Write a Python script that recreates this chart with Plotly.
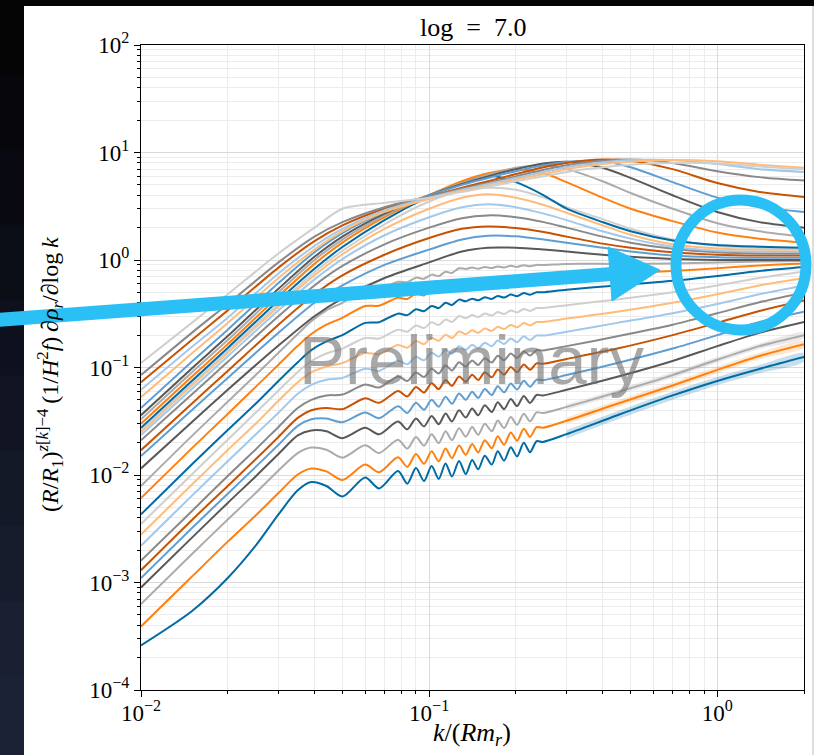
import plotly.graph_objects as go

# ---------------- data ----------------
K_LOW = [0.01, 0.015, 0.02, 0.025, 0.03, 0.035, 0.039, 0.044, 0.05, 0.06, 0.067, 0.078,
         0.084, 0.09, 0.096, 0.102, 0.108, 0.114, 0.12, 0.127, 0.134,
         0.141, 0.148, 0.156, 0.165, 0.173, 0.182, 0.192, 0.202, 0.213, 0.224, 0.236, 0.248,
         0.3, 0.45, 0.7, 1.0, 1.4, 2.0]
K_HIGH = [0.01, 0.015, 0.02, 0.03, 0.04, 0.05, 0.07, 0.1, 0.13, 0.16, 0.2, 0.25, 0.3,
          0.4, 0.5, 0.7, 1.0, 1.4, 2.0]

C00 = [2.6e-4, 5.4e-4, 1.1e-3, 2.2e-3, 4.3e-3, 7.2e-3, 8.6e-3, 7.9e-3, 6.3e-3, 9.5e-3, 7.5e-3, 1.09e-2, 8.3e-3, 1.16e-2, 8.8e-3, 1.21e-2, 9.2e-3, 1.28e-2, 9.7e-3, 1.35e-2, 1.02e-2,
       0.0138, 0.0113, 0.0151, 0.0125, 0.0166, 0.0136, 0.0181, 0.0149, 0.0199, 0.0163, 0.0206, 0.0203,
       0.024, 0.036, 0.055, 0.075, 0.097, 0.125]
C01 = [3.9e-4, 1.13e-3, 2.4e-3, 4.2e-3, 6.8e-3, 1.01e-2, 1.15e-2, 1.08e-2, 9.0e-3, 1.25e-2, 1.06e-2, 1.46e-2, 1.19e-2, 1.57e-2, 1.27e-2, 1.66e-2, 1.34e-2, 1.76e-2, 1.43e-2, 1.88e-2, 1.54e-2,
       0.0194, 0.0162, 0.0211, 0.0177, 0.0229, 0.0191, 0.0249, 0.0208, 0.0270, 0.0226, 0.0279, 0.0275,
       0.032, 0.046, 0.068, 0.095, 0.128, 0.165]
C02 = [6.3e-4, 1.83e-3, 3.85e-3, 6.8e-3, 1.1e-2, 1.6e-2, 1.8e-2, 1.72e-2, 1.45e-2, 1.89e-2, 1.6e-2, 2.13e-2, 1.76e-2, 2.26e-2, 1.87e-2, 2.4e-2, 1.98e-2, 2.55e-2, 2.11e-2, 2.72e-2, 2.27e-2,
       0.0279, 0.0236, 0.0300, 0.0255, 0.0322, 0.0273, 0.0346, 0.0293, 0.0372, 0.0316, 0.0382, 0.0377,
       0.043, 0.059, 0.085, 0.118, 0.158, 0.20]
C03 = [9.0e-4, 2.6e-3, 5.5e-3, 9.7e-3, 1.57e-2, 2.34e-2, 2.6e-2, 2.55e-2, 2.2e-2, 2.75e-2, 2.39e-2, 3.14e-2, 2.66e-2, 3.36e-2, 2.83e-2, 3.54e-2, 2.97e-2, 3.74e-2, 3.15e-2, 4.0e-2, 3.42e-2,
       0.0416, 0.0359, 0.0445, 0.0385, 0.0475, 0.0410, 0.0508, 0.0438, 0.0543, 0.0468, 0.0555, 0.0549,
       0.062, 0.082, 0.115, 0.158, 0.21, 0.265]
C04 = [1.1e-3, 3.2e-3, 6.7e-3, 1.19e-2, 1.91e-2, 2.86e-2, 3.3e-2, 3.35e-2, 3.1e-2, 3.82e-2, 3.37e-2, 4.36e-2, 3.78e-2, 4.69e-2, 4.05e-2, 5.01e-2, 4.32e-2, 5.34e-2, 4.6e-2, 5.72e-2, 5.0e-2,
       0.0595, 0.0521, 0.0631, 0.0555, 0.0670, 0.0587, 0.0711, 0.0623, 0.0754, 0.0661, 0.0770, 0.0762,
       0.085, 0.11, 0.15, 0.20, 0.265, 0.33]
C05 = [1.3e-3, 3.8e-3, 7.9e-3, 1.4e-2, 2.26e-2, 3.4e-2, 4.0e-2, 4.2e-2, 4.1e-2, 5.18e-2, 4.69e-2, 6.05e-2, 5.38e-2, 6.59e-2, 5.84e-2, 7.13e-2, 6.3e-2, 7.67e-2, 6.76e-2, 8.26e-2, 7.36e-2,
       0.0857, 0.0764, 0.0905, 0.0810, 0.0957, 0.0855, 0.1011, 0.0903, 0.1069, 0.0954, 0.1092, 0.1083,
       0.12, 0.15, 0.20, 0.26, 0.335, 0.42]
C06 = [1.6e-3, 4.6e-3, 9.8e-3, 1.73e-2, 2.8e-2, 4.2e-2, 5.0e-2, 5.5e-2, 5.6e-2, 6.96e-2, 6.51e-2, 8.24e-2, 7.49e-2, 8.99e-2, 8.14e-2, 9.74e-2, 8.79e-2, 0.105, 9.39e-2, 0.112, 0.102,
       0.1163, 0.1055, 0.1220, 0.1112, 0.1284, 0.1167, 0.1349, 0.1227, 0.1420, 0.1290, 0.1449, 0.1441,
       0.158, 0.195, 0.25, 0.32, 0.405, 0.50]
C07 = [2.2e-3, 6.4e-3, 1.34e-2, 2.38e-2, 3.8e-2, 5.7e-2, 6.9e-2, 7.7e-2, 8.0e-2, 9.75e-2, 9.3e-2, 0.1155, 0.107, 0.126, 0.1166, 0.137, 0.126, 0.146, 0.134, 0.158, 0.146,
       0.163, 0.151, 0.170, 0.158, 0.178, 0.165, 0.186, 0.172, 0.195, 0.180, 0.1986, 0.1981,
       0.215, 0.26, 0.32, 0.39, 0.48, 0.58]
C08 = [2.8e-3, 8.1e-3, 1.71e-2, 3.0e-2, 4.9e-2, 7.3e-2, 9.0e-2, 0.102, 0.11, 0.1365, 0.133, 0.162, 0.153, 0.176, 0.165, 0.189, 0.177, 0.202, 0.188, 0.216, 0.204,
       0.2215, 0.2104, 0.2302, 0.2192, 0.2395, 0.2276, 0.2491, 0.2367, 0.2591, 0.2463, 0.2649, 0.2652,
       0.285, 0.33, 0.40, 0.48, 0.58, 0.68]
C09 = [3.5e-3, 1.01e-2, 2.13e-2, 3.8e-2, 6.1e-2, 9.1e-2, 0.115, 0.135, 0.15, 0.188, 0.186, 0.225, 0.215, 0.246, 0.233, 0.263, 0.248, 0.28, 0.265, 0.301, 0.287,
       0.3077, 0.2943, 0.3177, 0.3046, 0.3286, 0.3143, 0.3395, 0.3249, 0.3509, 0.3359, 0.3572, 0.3575,
       0.38, 0.43, 0.50, 0.58, 0.68, 0.78]
C10 = [4.3e-3, 1.25e-2, 2.62e-2, 4.6e-2, 7.5e-2, 0.112, 0.145, 0.175, 0.20, 0.26, 0.264, 0.317, 0.307, 0.348, 0.334, 0.374, 0.357, 0.40, 0.381, 0.428, 0.413,
       0.4368, 0.4214, 0.4498, 0.4348, 0.4634, 0.4473, 0.4775, 0.4610, 0.4921, 0.4750, 0.5004, 0.5017,
       0.53, 0.58, 0.64, 0.71, 0.79, 0.86]
C11 = [6.1e-3, 1.77e-2, 3.7e-2, 6.6e-2, 0.106, 0.159, 0.205, 0.25, 0.29, 0.373, 0.376, 0.445, 0.434, 0.486, 0.468, 0.518, 0.497, 0.549, 0.531, 0.595, 0.579,
       0.606, 0.589, 0.6206, 0.6042, 0.636, 0.6184, 0.6518, 0.6337, 0.668, 0.6494, 0.6776, 0.6788,
       0.71, 0.75, 0.79, 0.84, 0.89, 0.93]
C12 = [7.9e-3, 2.3e-2, 4.8e-2, 8.5e-2, 0.137, 0.205, 0.27, 0.34, 0.40, 0.515, 0.534, 0.628, 0.621, 0.685, 0.669, 0.731, 0.708, 0.778, 0.757, 0.839, 0.825,
       0.8498, 0.8298, 0.8607, 0.8411, 0.8719, 0.8514, 0.8834, 0.8627, 0.8949, 0.8739, 0.9001, 0.8986,
       0.92, 0.92, 0.93, 0.95, 0.97, 0.98]

C13 = [0.0115, 0.031, 0.062, 0.16, 0.30, 0.44, 0.68, 0.95, 1.2, 1.3, 1.3, 1.25, 1.2, 1.12, 1.07, 1.02, 1.0, 1.0, 1.0]
C14 = [0.015, 0.04, 0.08, 0.21, 0.40, 0.58, 0.9, 1.25, 1.55, 1.68, 1.66, 1.55, 1.45, 1.3, 1.2, 1.1, 1.06, 1.05, 1.05]
C15 = [0.017, 0.046, 0.093, 0.25, 0.48, 0.72, 1.12, 1.6, 1.95, 2.05, 1.98, 1.82, 1.65, 1.42, 1.3, 1.18, 1.12, 1.1, 1.1]
C16 = [0.021, 0.056, 0.113, 0.30, 0.58, 0.88, 1.4, 2.0, 2.45, 2.6, 2.5, 2.25, 2.0, 1.65, 1.45, 1.27, 1.18, 1.15, 1.15]
C17 = [0.0235, 0.063, 0.127, 0.34, 0.66, 1.02, 1.7, 2.5, 3.1, 3.3, 3.1, 2.7, 2.35, 1.85, 1.58, 1.33, 1.22, 1.2, 1.2]
C18 = [0.025, 0.068, 0.137, 0.37, 0.72, 1.13, 1.95, 3.0, 3.8, 4.1, 3.8, 3.25, 2.75, 2.1, 1.72, 1.4, 1.28, 1.25, 1.25]
C19 = [0.026, 0.071, 0.143, 0.39, 0.77, 1.22, 2.15, 3.5, 4.4, 4.7, 4.5, 3.8, 3.1, 2.4, 1.95, 1.55, 1.35, 1.3, 1.28]
C20 = [0.0275, 0.075, 0.152, 0.42, 0.83, 1.32, 2.35, 3.9, 5.3, 6.1, 5.3, 4.0, 3.0, 2.25, 1.85, 1.52, 1.38, 1.33, 1.3]
C21 = [0.030, 0.082, 0.165, 0.46, 0.92, 1.45, 2.5, 4.0, 5.4, 6.4, 7.0, 6.4, 5.3, 3.8, 3.0, 2.3, 1.8, 1.58, 1.45]
C22 = [0.033, 0.09, 0.18, 0.50, 1.0, 1.55, 2.6, 4.0, 5.2, 6.2, 7.2, 7.6, 7.0, 5.4, 4.2, 3.0, 2.2, 1.85, 1.65]
C23 = [0.036, 0.098, 0.196, 0.54, 1.07, 1.65, 2.7, 4.0, 5.1, 6.0, 7.0, 7.9, 8.2, 7.2, 5.8, 4.0, 2.8, 2.25, 2.0]
C24 = [0.042, 0.113, 0.225, 0.61, 1.18, 1.78, 2.8, 4.0, 5.0, 5.8, 6.7, 7.6, 8.2, 8.3, 7.3, 5.3, 3.8, 3.1, 2.8]
C25 = [0.073, 0.18, 0.34, 0.85, 1.5, 2.1, 3.0, 3.9, 4.7, 5.4, 6.3, 7.3, 8.0, 8.6, 8.4, 7.0, 5.2, 4.3, 3.85]
C26 = [0.085, 0.21, 0.39, 0.95, 1.65, 2.25, 3.1, 3.9, 4.6, 5.2, 6.0, 6.9, 7.6, 8.4, 8.6, 8.0, 6.7, 5.9, 5.5]
C27 = [0.062, 0.155, 0.29, 0.75, 1.35, 1.95, 2.9, 3.8, 4.5, 5.1, 5.8, 6.6, 7.3, 8.1, 8.5, 8.5, 7.8, 7.0, 6.6]
C28 = [0.053, 0.135, 0.26, 0.68, 1.25, 1.85, 2.8, 3.7, 4.4, 4.9, 5.6, 6.3, 7.0, 7.8, 8.2, 8.5, 8.3, 7.7, 7.2]
C29 = [0.11, 0.26, 0.48, 1.15, 2.0, 3.0, 3.4, 3.8, 4.3, 4.8, 5.4, 6.0, 6.6, 7.3, 7.7, 8.0, 7.9, 7.4, 7.0]

LOW_CURVES = [C00, C01, C02, C03, C04, C05, C06, C07, C08, C09, C10, C11, C12]
HIGH_CURVES = [C13, C14, C15, C16, C17, C18, C19, C20, C21, C22, C23, C24, C25, C26, C27, C28, C29]

# relative half-width of the shaded uncertainty band on the three lowest curves
BAND_FRAC = [0.09, 0.07, 0.06]
BAND_KMIN = 0.3

X_TICKS = [0.01, 0.1, 1.0]
X_TICKTEXT = ["10<sup>−2</sup>", "10<sup>−1</sup>", "10<sup>0</sup>"]
Y_TICKS = [1e-4, 1e-3, 1e-2, 1e-1, 1.0, 10.0, 100.0]
Y_TICKTEXT = ["10<sup>−4</sup>", "10<sup>−3</sup>", "10<sup>−2</sup>", "10<sup>−1</sup>",
              "10<sup>0</sup>", "10<sup>1</sup>", "10<sup>2</sup>"]

TITLE = "log\u2002=\u20027.0"
X_LABEL = "<i>k</i>/(<i>Rm<sub>r</sub></i>)"
Y_LABEL = ("(<i>R</i>/<i>R</i><sub>1</sub>)<sup><i>z</i>[<i>k</i>]−4</sup>\u2009"
           "(1/<i>H</i><sup>2</sup><i>f</i>)\u2009∂<i>ρ<sub>r</sub></i>/∂log\u2009<i>k</i>")
WATERMARK = "Preliminary"

# ---------------- style ----------------
PALETTE = ["#006BA4", "#FF800E", "#ABABAB", "#595959", "#5F9ED1",
           "#C85200", "#898989", "#A2C8EC", "#FFBC79", "#CFCFCF"]
BAND_COLORS = ["rgba(0,107,164,0.22)", "rgba(255,128,14,0.2)", "rgba(171,171,171,0.25)"]
W, H = 814, 755
L, R, T, B = 141, 10, 45, 65
PW, PH = W - L - R, H - T - B
SERIF = "Liberation Serif, Times New Roman, serif"
ACCENT = "#2BC0F5"


def px(x):
    return (x - L) / PW


def py(y):
    return (H - B - y) / PH


fig = go.Figure()

# shaded bands (drawn first, under the lines)
for j, frac in enumerate(BAND_FRAC):
    ks = [k for k in K_LOW if k >= BAND_KMIN]
    vs = [v for k, v in zip(K_LOW, LOW_CURVES[j]) if k >= BAND_KMIN]
    hi = [v * (1 + frac) for v in vs]
    lo = [v * (1 - frac) for v in vs]
    fig.add_trace(go.Scatter(x=ks + ks[::-1], y=hi + lo[::-1], mode="lines", fill="toself",
                             fillcolor=BAND_COLORS[j], line=dict(width=0, shape="spline", smoothing=0.8),
                             showlegend=False, hoverinfo="skip"))

idx = 0
for vals in LOW_CURVES:
    fig.add_trace(go.Scatter(x=K_LOW, y=vals, mode="lines",
                             line=dict(color=PALETTE[idx % 10], width=2, shape="spline", smoothing=0.8),
                             showlegend=False, hoverinfo="skip"))
    idx += 1
for vals in HIGH_CURVES:
    fig.add_trace(go.Scatter(x=K_HIGH, y=vals, mode="lines",
                             line=dict(color=PALETTE[idx % 10], width=2, shape="spline", smoothing=0.8),
                             showlegend=False, hoverinfo="skip"))
    idx += 1

minor_x = [m * 10.0 ** e for e in range(-2, 1) for m in range(2, 10) if m * 10.0 ** e <= 2.0]
minor_y = [m * 10.0 ** e for e in range(-4, 2) for m in range(2, 10)]

axis_common = dict(type="log", showline=True, linecolor="black", linewidth=1.2, mirror=True,
                   ticks="outside", ticklen=6, tickwidth=1, tickcolor="black",
                   showgrid=True, gridcolor="#dadada", gridwidth=0.8, zeroline=False,
                   tickfont=dict(family=SERIF, size=23, color="black"))

fig.update_xaxes(**axis_common, range=[-2, 0.30103], tickmode="array",
                 tickvals=X_TICKS, ticktext=X_TICKTEXT, ticklabelstandoff=-4,
                 minor=dict(tickmode="array", tickvals=minor_x, ticks="outside", ticklen=3,
                            tickcolor="black", showgrid=True, gridcolor="#ececec", gridwidth=0.8))
fig.update_yaxes(**axis_common, range=[-4, 2], tickmode="array",
                 tickvals=Y_TICKS, ticktext=Y_TICKTEXT,
                 minor=dict(tickmode="array", tickvals=minor_y, ticks="outside", ticklen=3,
                            tickcolor="black", showgrid=True, gridcolor="#ececec", gridwidth=0.8))

shapes = []
# dark slide background around the figure
strip_cols = ["#050505", "#07070b", "#090a11", "#0b0d17", "#0e111d", "#111523",
              "#141928", "#171c2d", "#1a1f32", "#1c2236"]
n = len(strip_cols)
for i, c in enumerate(strip_cols):
    y0 = i * H / n
    y1 = (i + 1) * H / n + 1
    shapes.append(dict(type="rect", xref="paper", yref="paper", x0=px(-2), x1=px(24),
                       y0=py(y1), y1=py(y0 - 2), fillcolor=c, line=dict(width=0), layer="above"))
shapes.append(dict(type="rect", xref="paper", yref="paper", x0=px(-2), x1=px(W + 2),
                   y0=py(6), y1=py(-2), fillcolor="#050505", line=dict(width=0), layer="above"))
shapes.append(dict(type="rect", xref="paper", yref="paper", x0=px(812), x1=px(W + 2),
                   y0=py(H + 2), y1=py(6), fillcolor="#dddddd", line=dict(width=0), layer="above"))
# arrow
shapes.append(dict(type="line", xref="paper", yref="paper", x0=px(-2), y0=py(320),
                   x1=px(612), y1=py(274), line=dict(color=ACCENT, width=14), layer="above"))
shapes.append(dict(type="path", xref="paper", yref="paper",
                   path="M {} {} L {} {} L {} {} Z".format(px(660), py(270), px(612), py(301),
                                                          px(608), py(247)),
                   fillcolor=ACCENT, line=dict(color=ACCENT, width=1), layer="above"))
# circle
shapes.append(dict(type="circle", xref="paper", yref="paper", x0=px(676), x1=px(806),
                   y0=py(330), y1=py(200), line=dict(color=ACCENT, width=11), layer="above"))

annotations = [
    dict(text=TITLE, x=0.5, y=1.0, xref="paper", yref="paper", xanchor="center",
         yanchor="bottom", yshift=1, showarrow=False,
         font=dict(family=SERIF, size=26, color="black")),
    dict(text=X_LABEL, x=px(472), y=py(734), xref="paper", yref="paper", xanchor="center",
         yanchor="middle", showarrow=False, font=dict(family=SERIF, size=26, color="black")),
    dict(text=Y_LABEL, x=px(50), y=py(374), xref="paper", yref="paper", xanchor="center",
         yanchor="middle", textangle=-90, showarrow=False,
         font=dict(family=SERIF, size=24, color="black")),
    dict(text=WATERMARK, x=px(472), y=py(360), xref="paper", yref="paper", xanchor="center",
         yanchor="middle", showarrow=False,
         font=dict(family="Liberation Sans, Arial, sans-serif", size=69,
                   color="rgba(115,115,115,0.62)")),
]

fig.update_layout(width=W, height=H, margin=dict(l=L, r=R, t=T, b=B),
                  paper_bgcolor="white", plot_bgcolor="white",
                  shapes=shapes, annotations=annotations, showlegend=False)

fig.write_html("out.html", config={"displayModeBar": False},
               post_script="document.body.style.margin='0px';document.body.style.overflow='hidden';")
